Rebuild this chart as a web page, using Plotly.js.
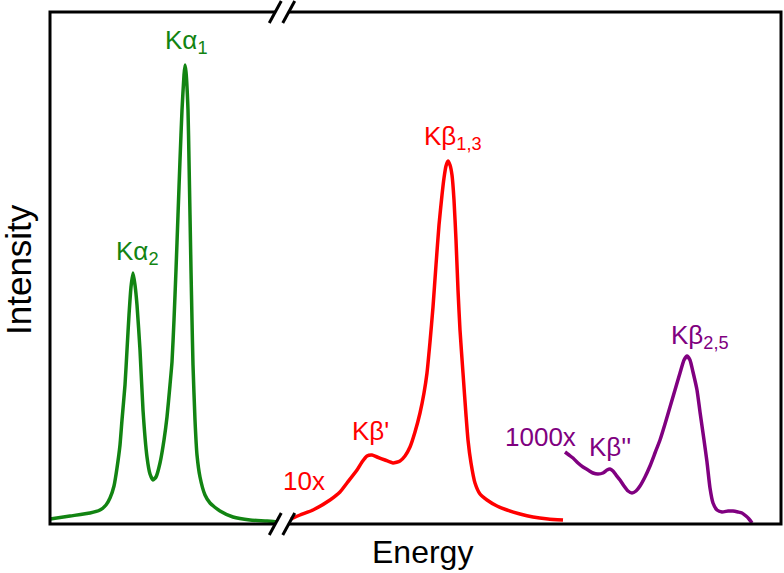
<!DOCTYPE html>
<html>
<head>
<meta charset="utf-8">
<script src="https://cdn.plot.ly/plotly-3.0.1.min.js"></script>
<style>
html,body{margin:0;padding:0;background:#fff;}
#chart{width:784px;height:573px;}
</style>
</head>
<body>
<div id="chart"></div>
<script>
// ---- Data (arbitrary energy units / arbitrary intensity units) ----
const kaEnergy = [0,20,40,50,56,60,64,67,70,72,75,77,79,81,83,85,87,90,93,97,100,103,106,110,114,117,120,122,124,126,128,130,132,134,135,136,138,139,140,141,142,143,145,147,150,155,160,170,183,200,217,227];
const kaIntensity = [5,8,11,14,19,26,38,56,79,104,139,174,209,237,251,239,219,174,114,67,50,44,47,61,84,107,139,162,204,254,309,364,414,449,459,452,414,364,309,254,204,159,104,69,47,29,21,13,7,4,3,2];

const kbEnergy = [241,250,263,280,290,297,307,312,317,322,327,335,343,350,355,360,365,370,374,377,380,383,386,389,392,394,396,398,400,402,404,406,408,410,413,416,418,421,425,430,437,447,457,470,483,498,513];
const kbIntensity = [5,9,14,24,32,41,54,62,68,69,67,64,61,63,68,77,92,111,131,151,182,217,259,299,329,346,358,363,359,349,324,284,234,194,151,109,84,61,41,30,24,18,14,10,7,5,4];

const vtcEnergy = [515,519,523,528,533,538,543,548,553,557,560,563,566,570,574,578,582,586,590,595,600,605,610,615,620,625,630,634,637,640,643,647,650,654,657,660,663,667,672,678,683,688,692,696,699,702];
const vtcIntensity = [72,69,66,61,57,54,51,50,51,54,55,53,49,44,38,33,31,33,38,47,58,71,84,100,117,134,151,164,168,164,152,134,112,84,62,36,21,14,12,13,13,12,11,8,5,1];

const labels = [
  {text:"Kα<sub>1</sub>", x:136, y:483, group:"ka"},
  {text:"Kα<sub>2</sub>", x:87, y:272, group:"ka"},
  {text:"Kβ<sub>1,3</sub>", x:403, y:387, group:"kb"},
  {text:"Kβ'", x:320, y:93, group:"kb"},
  {text:"10x", x:254, y:43, group:"kb"},
  {text:"1000x", x:490, y:87, group:"vtc"},
  {text:"Kβ''", x:560, y:77, group:"vtc"},
  {text:"Kβ<sub>2,5</sub>", x:650, y:188, group:"vtc"}
];
const xTitle = "Energy";
const yTitle = "Intensity";
const breakEnergy = 232; // position of the axis break

// ---- Styling ----
const colors = {ka:"#128412", kb:"#ff0000", vtc:"#800080"};
const W = 784, H = 573;
const M = {l:50, r:3, t:12, b:49};
const xRange = [0, 731], yRange = [0, 512];
const font = "Arial, 'Liberation Sans', sans-serif";

const traces = [
  {x:kaEnergy, y:kaIntensity, color:colors.ka},
  {x:kbEnergy, y:kbIntensity, color:colors.kb},
  {x:vtcEnergy, y:vtcIntensity, color:colors.vtc}
].map(s => ({
  x:s.x, y:s.y, type:"scatter", mode:"lines",
  line:{color:s.color, width:3.5, shape:"spline", smoothing:0.5},
  hoverinfo:"skip", showlegend:false
}));

// paper helpers for decoration (break marks)
const plotW = W - M.l - M.r, plotH = H - M.t - M.b;
const bx = (breakEnergy - xRange[0]) / (xRange[1] - xRange[0]);
const dxp = 12 / plotW, dyp = 22 / plotH, gapp = 13.5 / plotW;
function slash(cx, cy){
  return {type:"line", xref:"paper", yref:"paper",
    x0:cx - dxp/2, y0:cy - dyp/2, x1:cx + dxp/2, y1:cy + dyp/2,
    line:{color:"#000", width:3}, layer:"above"};
}
function gap(cy){
  const h = 4 / plotH, s = (dxp/dyp);
  const xa = bx - gapp/2, xb = bx + gapp/2;
  const p = [[xa - h*s, cy - h],[xb - h*s, cy - h],[xb + h*s, cy + h],[xa + h*s, cy + h]];
  return {type:"path", xref:"paper", yref:"paper",
    path:"M"+p.map(q=>q[0]+","+q[1]).join(" L")+" Z",
    fillcolor:"#fff", line:{width:0}, layer:"above"};
}
const shapes = [
  {type:"rect", xref:"paper", yref:"paper", x0:0, y0:0, x1:1, y1:1, line:{color:"#000", width:3}, layer:"above"},
  gap(1), gap(0),
  slash(bx - gapp/2, 1), slash(bx + gapp/2, 1),
  slash(bx - gapp/2, 0), slash(bx + gapp/2, 0)
];

const annotations = labels.map(l => ({
  text:l.text, x:l.x, y:l.y, xref:"x", yref:"y", showarrow:false,
  xanchor:"center", yanchor:"middle",
  font:{family:font, size:26, color:colors[l.group]}
}));
annotations.push({text:xTitle, xref:"paper", yref:"paper", x:(422-M.l)/plotW, y:-(552-(H-M.b))/plotH,
  showarrow:false, xanchor:"center", yanchor:"middle", font:{family:font, size:32, color:"#000"}});
annotations.push({text:yTitle, xref:"paper", yref:"paper", x:-(M.l-18)/plotW, y:(H-M.b-270)/plotH,
  showarrow:false, xanchor:"center", yanchor:"middle", textangle:-90, font:{family:font, size:35, color:"#000"}});

const axisBase = {showgrid:false, zeroline:false, showticklabels:false, ticks:"", showline:false, fixedrange:true};
const layout = {
  width:W, height:H, margin:M, paper_bgcolor:"#fff", plot_bgcolor:"#fff",
  xaxis:Object.assign({range:xRange}, axisBase),
  yaxis:Object.assign({range:yRange}, axisBase),
  shapes:shapes, annotations:annotations, showlegend:false
};
Plotly.newPlot("chart", traces, layout, {displayModeBar:false, staticPlot:true});
</script>
</body>
</html>
